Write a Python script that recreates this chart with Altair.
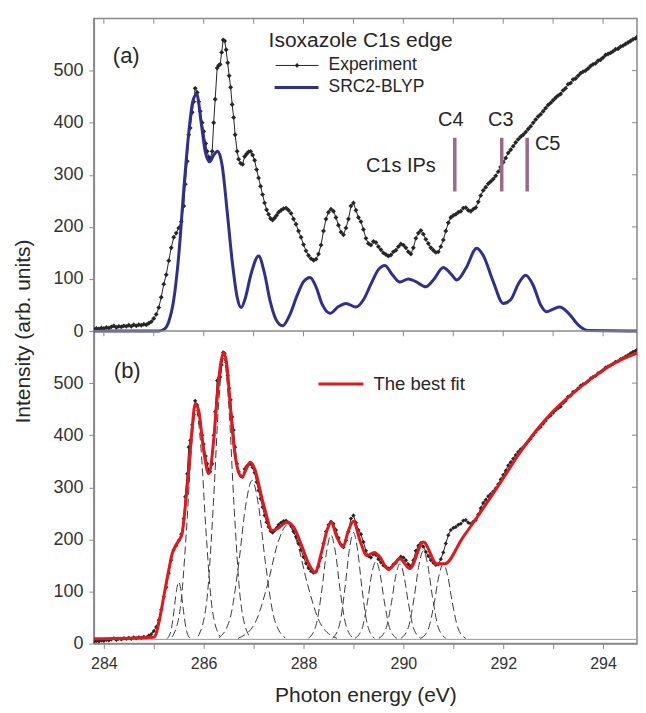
import altair as alt
import pandas as pd

# ---------------- data ----------------
exp_E = [283.80, 283.85, 283.90, 283.95, 284.00, 284.05, 284.10, 284.15, 284.20, 284.25,
         284.30, 284.35, 284.40, 284.45, 284.50, 284.55, 284.60, 284.65, 284.70, 284.75,
         284.80, 284.85, 284.90, 284.95, 285.00, 285.05, 285.10, 285.15, 285.20, 285.25,
         285.30, 285.35, 285.40, 285.45, 285.50, 285.55, 285.60, 285.63, 285.67, 285.70,
         285.73, 285.77, 285.80, 285.83, 285.87, 285.90, 285.93, 285.97, 286.00, 286.04,
         286.07, 286.10, 286.13, 286.17, 286.20, 286.23, 286.27, 286.30, 286.33, 286.36,
         286.39, 286.42, 286.45, 286.48, 286.51, 286.54, 286.57, 286.60, 286.63, 286.67,
         286.70, 286.74, 286.78, 286.82, 286.86, 286.90, 286.94, 286.98, 287.02, 287.06,
         287.10, 287.14, 287.18, 287.22, 287.26, 287.30, 287.34, 287.38, 287.42, 287.46,
         287.50, 287.55, 287.60, 287.65, 287.70, 287.75, 287.80, 287.85, 287.90, 287.95,
         288.00, 288.05, 288.10, 288.15, 288.20, 288.25, 288.30, 288.35, 288.40, 288.45,
         288.50, 288.55, 288.60, 288.65, 288.70, 288.75, 288.80, 288.85, 288.90, 288.95,
         289.00, 289.05, 289.10, 289.15, 289.20, 289.25, 289.30, 289.35, 289.40, 289.45,
         289.50, 289.55, 289.60, 289.65, 289.70, 289.75, 289.80, 289.85, 289.90, 289.95,
         290.00, 290.05, 290.10, 290.15, 290.20, 290.25, 290.30, 290.35, 290.40, 290.45,
         290.50, 290.55, 290.60, 290.65, 290.70, 290.75, 290.80, 290.85, 290.90, 290.95,
         291.00, 291.05, 291.10, 291.15, 291.20, 291.25, 291.30, 291.35, 291.40, 291.45,
         291.50, 291.55, 291.60, 291.65, 291.70, 291.75, 291.80, 291.85, 291.90, 291.95,
         292.00, 292.05, 292.10, 292.15, 292.20, 292.25, 292.30, 292.35, 292.40, 292.45,
         292.50, 292.55, 292.60, 292.65, 292.70, 292.75, 292.80, 292.85, 292.90, 292.95,
         293.00, 293.05, 293.10, 293.15, 293.20, 293.25, 293.30, 293.35, 293.40, 293.45,
         293.50, 293.55, 293.60, 293.65, 293.70, 293.75, 293.80, 293.85, 293.90, 293.95,
         294.00, 294.05, 294.10, 294.15, 294.20, 294.25, 294.30, 294.35, 294.40, 294.45,
         294.50, 294.55, 294.60, 294.65, 294.70, 294.75, 294.80, 294.85]
exp_V = [3, 5, 4, 6, 5, 7, 6, 8, 10, 7,
         9, 8, 10, 9, 11, 9, 12, 10, 12, 11,
         13, 12, 15, 18, 24, 32, 45, 65, 90, 108,
         135, 160, 180, 188, 198, 210, 240, 282, 326, 377,
         390, 420, 440, 466, 458, 440, 422, 400, 383, 360,
         345, 334, 330, 345, 400, 445, 505, 510, 512, 535,
         559, 557, 540, 515, 490, 468, 435, 410, 377, 345,
         330, 322, 320, 335, 340, 344, 345, 338, 328, 310,
         294, 278, 262, 246, 233, 224, 216, 213, 217, 222,
         228, 232, 235, 236, 232, 226, 215, 205, 192, 180,
         166, 154, 145, 139, 136, 138, 148, 165, 192, 215,
         228, 234, 230, 218, 203, 190, 185, 198, 215, 240,
         246, 232, 218, 210, 195, 178, 168, 165, 172, 170,
         162, 156, 150, 147, 144, 146, 152, 155, 162, 167,
         165, 160, 152, 148, 160, 178, 188, 193, 186, 176,
         168, 160, 155, 151, 152, 162, 175, 192, 208, 218,
         222, 224, 228, 230, 236, 237, 232, 230, 234, 237,
         248, 260, 270, 276, 283, 287, 292, 298, 306, 315,
         324, 332, 342, 348, 355, 362, 368, 373, 377, 382,
         388, 393, 400, 406, 412, 416, 422, 428, 434, 438,
         443, 448, 452, 455, 462, 466, 474, 476, 483, 485,
         490, 495, 498, 500, 504, 509, 512, 514, 519, 521,
         525, 530, 532, 534, 537, 541, 542, 546, 548, 551,
         554, 557, 560, 562, 566, 569, 572, 575]

calc_E = [283.8, 285.1, 285.2, 285.3, 285.4, 285.5, 285.6, 285.7, 285.78, 285.86,
          285.95, 286.03, 286.12, 286.2, 286.28, 286.37, 286.47, 286.57, 286.67, 286.75,
          286.83, 286.95, 287.1, 287.22, 287.33, 287.45, 287.58, 287.72, 287.87, 288.0,
          288.13, 288.25, 288.37, 288.53, 288.7, 288.85, 289.05, 289.2, 289.35, 289.5,
          289.63, 289.78, 289.93, 290.1, 290.25, 290.45, 290.6, 290.8, 290.95, 291.07,
          291.25, 291.47, 291.6, 291.8, 292.0, 292.15, 292.3, 292.45, 292.6, 292.75,
          292.87, 293.0, 293.13, 293.3, 293.5, 293.7, 294.85]
calc_V = [0, 0, 3, 18, 60, 145, 270, 380, 440, 455,
          400, 345, 325, 338, 345, 318, 230, 135, 65, 45,
          62, 110, 144, 110, 58, 22, 10, 30, 68, 95,
          103, 85, 52, 34, 47, 53, 46, 60, 90, 118,
          126, 108, 94, 100, 95, 85, 98, 122, 110, 98,
          120, 159, 145, 95, 53, 60, 90, 107, 88, 50,
          37, 42, 46, 35, 12, 1, 0]

fit_E = [283.8, 285.0, 285.05, 285.1, 285.2, 285.3, 285.37, 285.45, 285.52, 285.57,
         285.63, 285.7, 285.77, 285.83, 285.9, 286.0, 286.1, 286.2, 286.27, 286.33,
         286.4, 286.47, 286.53, 286.6, 286.7, 286.77, 286.87, 286.93, 287.03, 287.13,
         287.23, 287.37, 287.47, 287.67, 287.8, 287.97, 288.1, 288.23, 288.37, 288.47,
         288.55, 288.67, 288.79, 288.9, 289.0, 289.13, 289.27, 289.42, 289.53, 289.7,
         289.93, 290.13, 290.4, 290.67, 290.83, 291.18, 291.53, 291.93, 292.33, 292.67,
         293.0, 293.4, 293.8, 294.2, 294.6, 294.85]
fit_V = [9, 12, 20, 39, 90, 141, 173, 190, 200, 212,
         262, 332, 415, 460, 447, 370, 326, 390, 473, 530,
         559, 530, 460, 384, 329, 320, 339, 348, 333, 294,
         256, 217, 220, 233, 224, 186, 154, 137, 179, 217,
         233, 204, 186, 217, 235, 198, 169, 175, 166, 142,
         163, 144, 195, 153, 153, 202, 250, 307, 366, 410,
         446, 481, 511, 537, 555, 563]

# dashed fit components (panel b), each read as a set of points
comp_E = [
    [285.26, 285.34, 285.404, 285.452, 285.5, 285.548, 285.596, 285.66, 285.74],
    [285.37, 285.53, 285.658, 285.754, 285.85, 285.946, 286.042, 286.17, 286.33],
    [285.89, 286.06, 286.196, 286.298, 286.4, 286.502, 286.604, 286.74, 286.91],
    [286.31, 286.53, 286.706, 286.838, 286.97, 287.102, 287.234, 287.41, 287.63],
    [286.69, 287.02, 287.284, 287.482, 287.68, 287.878, 288.076, 288.34, 288.67],
    [288.1, 288.25, 288.37, 288.46, 288.55, 288.64, 288.73, 288.85, 289.0],
    [288.58, 288.72, 288.832, 288.916, 289.0, 289.084, 289.168, 289.28, 289.42],
    [289.03, 289.17, 289.282, 289.366, 289.45, 289.534, 289.618, 289.73, 289.87],
    [289.51, 289.65, 289.762, 289.846, 289.93, 290.014, 290.098, 290.21, 290.35],
    [289.95, 290.1, 290.22, 290.31, 290.4, 290.49, 290.58, 290.7, 290.85],
    [290.35, 290.5, 290.62, 290.71, 290.8, 290.89, 290.98, 291.1, 291.25],
]
comp_V = [
    [9, 23, 62, 100, 118, 100, 62, 23, 9],
    [13, 67, 222, 375, 448, 375, 222, 67, 13],
    [14, 81, 271, 459, 548, 459, 271, 81, 14],
    [11, 49, 157, 263, 313, 263, 157, 49, 11],
    [10, 38, 115, 192, 228, 192, 115, 38, 10],
    [10, 35, 105, 175, 208, 175, 105, 35, 10],
    [10, 36, 108, 179, 213, 179, 108, 36, 10],
    [10, 28, 81, 133, 158, 133, 81, 28, 10],
    [10, 28, 79, 129, 153, 129, 79, 28, 10],
    [10, 31, 91, 150, 178, 150, 91, 31, 10],
    [10, 28, 79, 129, 153, 129, 79, 28, 10],
]
fit_baseline = 8

ip_labels = ["C4", "C3", "C5"]
ip_E = [291.03, 291.97, 292.48]
ip_low = [268, 268, 268]
ip_high = [371, 371, 371]
ip_label_E = [290.95, 291.95, 292.89]
ip_label_V = [405, 405, 359]
ip_title = "C1s IPs"
ip_title_E = 289.95
ip_title_V = 317

tick_E = list(range(284, 295))
y_tick_vals = [0, 100, 200, 300, 400, 500]
OFFSET = 600          # panel (a) sits above panel (b) on one shared scale
X_DOMAIN = [283.8, 294.68]   # right edge cut, as in the cropped original

# ---------------- tables ----------------
exp_b = pd.DataFrame({"E": exp_E, "V": exp_V})
exp_a = pd.DataFrame({"E": exp_E, "V": [v + OFFSET for v in exp_V]})
calc_a = pd.DataFrame({"E": calc_E, "V": [v + OFFSET for v in calc_V]})
fit_b = pd.DataFrame({"E": fit_E, "V": fit_V})
comp_rows = []
for i, (es, vs) in enumerate(zip(comp_E, comp_V)):
    for e, v in zip(es, vs):
        comp_rows.append({"E": e, "V": v, "c": i})
comp_df = pd.DataFrame(comp_rows)
ip_df = pd.DataFrame({"E": ip_E, "V": [v + OFFSET for v in ip_low],
                      "V2": [v + OFFSET for v in ip_high]})
ip_lab_df = pd.DataFrame({"E": ip_label_E, "V": [v + OFFSET for v in ip_label_V],
                          "t": ip_labels})
ip_title_df = pd.DataFrame({"E": [ip_title_E], "V": [ip_title_V + OFFSET], "t": [ip_title]})
ticks_top = pd.DataFrame({"E": tick_E, "V": [1200] * len(tick_E), "V2": [1190] * len(tick_E)})
ticks_mid = pd.DataFrame({"E": tick_E, "V": [600] * len(tick_E), "V2": [590] * len(tick_E)})
right_vals = y_tick_vals[1:] + [v + OFFSET for v in y_tick_vals[1:]]
ticks_right = pd.DataFrame({"E": [X_DOMAIN[1]] * len(right_vals),
                            "E2": [X_DOMAIN[1] - 0.1] * len(right_vals), "V": right_vals})
sep_df = pd.DataFrame({"E": [X_DOMAIN[0]], "E2": [X_DOMAIN[1]], "V": [OFFSET]})
base_df = pd.DataFrame({"E": [X_DOMAIN[0]], "E2": [X_DOMAIN[1]], "V": [fit_baseline]})
one = pd.DataFrame({"k": [0]})

FONT = "Liberation Sans"
FRAME = "#8a8a8a"
INK = "#262626"

xs = alt.Scale(domain=X_DOMAIN, nice=False, zero=False)
ys = alt.Scale(domain=[0, 1200], nice=False, zero=False)
x_axis = alt.Axis(values=tick_E, labelExpr="datum.value % 2 == 0 ? datum.label : ''",
                  format="d", grid=False, tickSize=5, labelPadding=7,
                  labelFontSize=16, titleFontSize=21, titlePadding=13,
                  title="Photon energy (eV)")
y_axis = alt.Axis(values=y_tick_vals + [v + OFFSET for v in y_tick_vals],
                  labelExpr=f"datum.value >= {OFFSET} ? datum.value - {OFFSET} : datum.value",
                  grid=False, tickSize=5, labelPadding=6, labelFontSize=18,
                  titleFontSize=21, titlePadding=19, title="Intensity (arb. units)")
X = alt.X("E:Q", scale=xs, axis=x_axis)
Y = alt.Y("V:Q", scale=ys, axis=y_axis)

layers = []
# panel (a) experiment
layers.append(alt.Chart(exp_a).mark_line(color=INK, strokeWidth=1, clip=True).encode(x=X, y=Y))
layers.append(alt.Chart(exp_a).mark_point(shape="diamond", filled=True, size=24, clip=True,
                                          color=INK, opacity=1).encode(x=X, y=Y))
# panel (a) calculation
layers.append(alt.Chart(calc_a).mark_line(color="#2e2f8f", strokeWidth=3, clip=True,
                                          interpolate="monotone").encode(x=X, y=Y))
# panel (b) baseline + components
layers.append(alt.Chart(base_df).mark_rule(color="#9a9a9a", strokeWidth=1).encode(
    x=X, x2="E2", y=Y))
layers.append(alt.Chart(comp_df).mark_line(color="#3a3a3a", strokeWidth=1, strokeDash=[8, 4],
                                           interpolate="monotone").encode(
    x=X, y=Y, detail="c:N"))
# panel (b) experiment
layers.append(alt.Chart(exp_b).mark_line(color=INK, strokeWidth=1, clip=True).encode(x=X, y=Y))
layers.append(alt.Chart(exp_b).mark_point(shape="diamond", filled=True, size=18, clip=True,
                                          color=INK, opacity=1).encode(x=X, y=Y))
# panel (b) best fit
layers.append(alt.Chart(fit_b).mark_line(color="#e3171c", strokeWidth=3, clip=True,
                                         interpolate="monotone").encode(x=X, y=Y))
# frame pieces
layers.append(alt.Chart(sep_df).mark_rule(color=FRAME, strokeWidth=1.5).encode(
    x=X, x2="E2", y=Y))
layers.append(alt.Chart(ticks_top).mark_rule(color=FRAME, strokeWidth=1).encode(
    x=X, y=Y, y2="V2"))
layers.append(alt.Chart(ticks_mid).mark_rule(color=FRAME, strokeWidth=1).encode(
    x=X, y=Y, y2="V2"))
layers.append(alt.Chart(ticks_right).mark_rule(color=FRAME, strokeWidth=1).encode(
    x=X, x2="E2", y=Y))
# ionisation potentials
layers.append(alt.Chart(ip_df).mark_rule(color="#9a6a88", strokeWidth=3.5).encode(
    x=X, y=Y, y2="V2"))
layers.append(alt.Chart(ip_lab_df).mark_text(font=FONT, fontSize=20, color=INK).encode(
    x=X, y=Y, text="t:N"))
layers.append(alt.Chart(ip_title_df).mark_text(font=FONT, fontSize=20, color=INK).encode(
    x=X, y=Y, text="t:N"))

# legends / panel labels (pixel positions inside the plot area)
def txt(s, x, y, size, align="left"):
    return alt.Chart(one).mark_text(text=s, font=FONT, fontSize=size, color=INK,
                                    align=align, baseline="middle").encode(
        x=alt.value(x), y=alt.value(y))

layers.append(txt("(a)", 19, 38, 22))
layers.append(txt("(b)", 20, 353, 22))
layers.append(txt("Isoxazole C1s edge", 175, 23, 21))
layers.append(alt.Chart(one).mark_rule(color=INK, strokeWidth=1).encode(
    x=alt.value(182), x2=alt.value(225), y=alt.value(47)))
layers.append(alt.Chart(one).mark_point(shape="diamond", filled=True, size=22, color=INK,
                                        opacity=1).encode(x=alt.value(203.5), y=alt.value(47)))
layers.append(txt("Experiment", 235, 47, 17.5))
layers.append(alt.Chart(one).mark_rule(color="#2e2f8f", strokeWidth=3).encode(
    x=alt.value(181), x2=alt.value(225), y=alt.value(69)))
layers.append(txt("SRC2-BLYP", 235, 69, 17.5))
layers.append(alt.Chart(one).mark_rule(color="#e3171c", strokeWidth=3).encode(
    x=alt.value(225), x2=alt.value(270), y=alt.value(366)))
layers.append(txt("The best fit", 280, 366, 18.5))

chart = alt.layer(*layers).properties(
    width=544, height=626,
    padding={"left": 4, "top": 9, "right": 0, "bottom": 0},
).configure_view(stroke=FRAME, strokeWidth=1.5).configure_axis(
    domainColor=FRAME, domainWidth=1.5, tickColor=FRAME, labelColor="#333333",
    titleColor=INK, labelFont=FONT, titleFont=FONT, titleFontWeight="normal")

chart.save("out.html", embed_options={"renderer": "svg", "actions": False})
